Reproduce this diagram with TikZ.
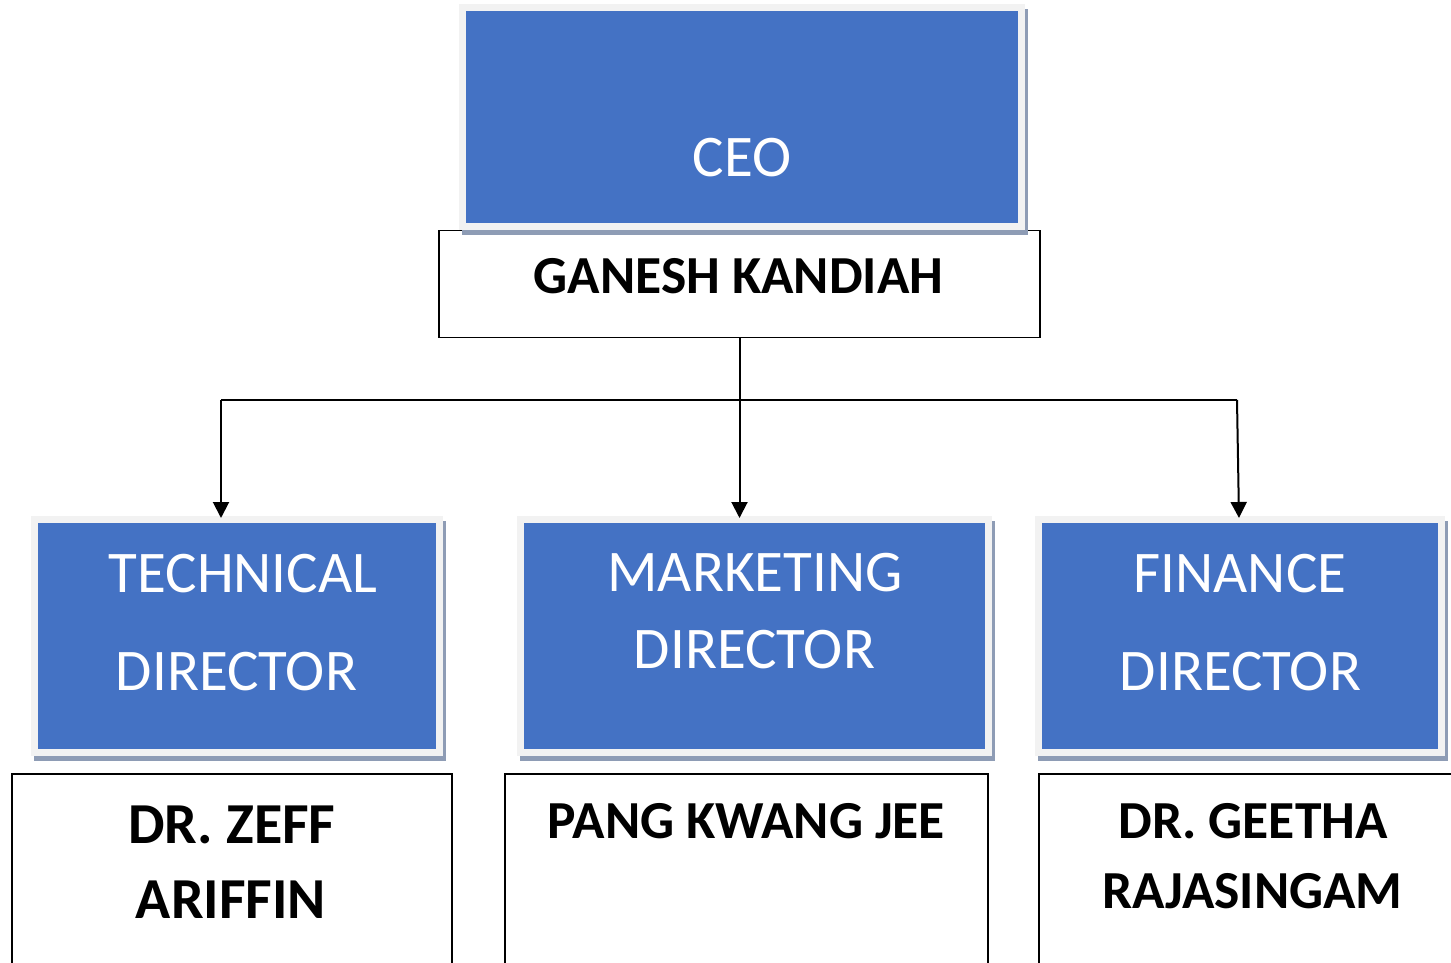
\documentclass[tikz,border=0pt]{standalone}
\usepackage{fontspec}
\setmainfont{Carlito}
\usetikzlibrary{arrows.meta}
\definecolor{boxblue}{HTML}{4472C4}
\definecolor{framegrey}{HTML}{F2F2F2}
\definecolor{shadowc}{HTML}{8E9CB5}
\begin{document}
\begin{tikzpicture}[x=1pt,y=-1pt,
  bluebox/.style={rectangle, fill=boxblue, draw=framegrey, line width=7pt, inner sep=0pt,
    preaction={draw=shadowc, fill=shadowc, transform canvas={xshift=2.5pt,yshift=-5pt}}},
  namebox/.style={rectangle, draw=black, line width=1.8pt, fill=white, inner sep=0pt},
  bluetxt/.style={text=white, font=\fontsize{59}{59}\selectfont, inner sep=0pt, anchor=base},
  nametxt/.style={text=black, font=\bfseries\fontsize{53.5}{53.5}\selectfont, inner sep=0pt, anchor=base},
  bignametxt/.style={nametxt, font=\bfseries\fontsize{58}{58}\selectfont},
  conn/.style={draw=black, line width=2pt},
  arr/.style={conn, -{Triangle[width=16pt,length=16pt]}}
]
\useasboundingbox (0,0) rectangle (1451,963);
\clip (0,0) rectangle (1451,963);

% name boxes
\node[namebox, minimum width=601pt, minimum height=107pt] (ganesh) at (739.5,284) {};
\node[namebox, minimum width=440pt, minimum height=326pt] (techname) at (232,937) {};
\node[namebox, minimum width=483pt, minimum height=326pt] (mktname) at (746.5,937) {};
\node[namebox, minimum width=461pt, minimum height=326pt] (finname) at (1269.5,937) {};

% blue boxes
\node[bluebox, minimum width=559pt, minimum height=219pt] (ceo) at (742,117) {};
\node[bluebox, minimum width=405pt, minimum height=233pt] (tech) at (237,636) {};
\node[bluebox, minimum width=468pt, minimum height=233pt] (mkt) at (754.5,636) {};
\node[bluebox, minimum width=403pt, minimum height=233pt] (fin) at (1240,636) {};

% connectors
\coordinate (busL) at (221,400);
\coordinate (busR) at (1237,400);
\draw[conn] (busL) -- (busR);
\draw[arr] (ganesh.south) -- ([yshift=-2pt]ganesh.south |- mkt.north);
\draw[arr] (busL) -- ([yshift=-2pt]busL |- tech.north);
\draw[arr] (busR) -- ([xshift=-1pt,yshift=-2pt]fin.north);

% texts
\node[bluetxt] (tceo) at (742,176) {CEO};
\node[nametxt] (tganesh) at (738.5,293) {GANESH KANDIAH};
\node[bluetxt] (ttechA) at (243,592) {TECHNICAL};
\node[bluetxt] (ttechB) at (236.5,690) {DIRECTOR};
\node[bluetxt] (tmktA) at (755,591) {MARKETING};
\node[bluetxt] (tmktB) at (754.5,668) {DIRECTOR};
\node[bluetxt] (tfinA) at (1240,592) {FINANCE};
\node[bluetxt] (tfinB) at (1240.5,690) {DIRECTOR};
\node[bignametxt] (ttnA) at (232,843) {DR. ZEFF};
\node[bignametxt] (ttnB) at (231,918) {ARIFFIN};
\node[nametxt] (tmn) at (746.5,838) {PANG KWANG JEE};
\node[nametxt] (tfnA) at (1253,838) {DR. GEETHA};
\node[nametxt] (tfnB) at (1252.5,908) {RAJASINGAM};
\end{tikzpicture}
\end{document}
